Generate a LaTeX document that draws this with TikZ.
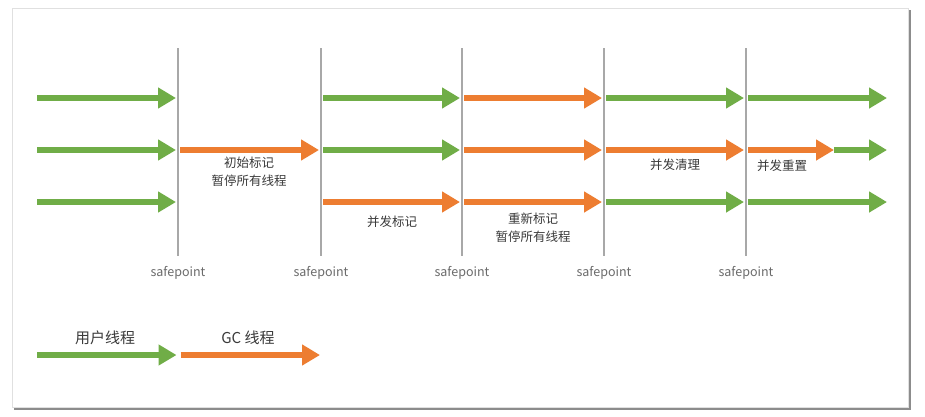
\documentclass[tikz,border=0pt]{standalone}
\usepackage{fontspec}
\setmainfont{Noto Sans CJK SC}
\usetikzlibrary{arrows.meta}
\definecolor{usercol}{HTML}{70AD47}
\definecolor{gccol}{HTML}{ED7D31}
\definecolor{spcol}{HTML}{A8A8A8}
\definecolor{txtcol}{HTML}{3A3A3A}

\begin{document}
\begin{tikzpicture}[
    x=1pt, y=-1pt,
    every node/.style={font=\fontsize{12.5}{18}\selectfont, text=txtcol, inner sep=0pt},
    thread/.style={line width=6pt, -{Triangle[length=18pt, width=20pt]},
        shorten <=2pt, shorten >=2pt},
    user/.style={thread, draw=usercol},
    gc/.style={thread, draw=gccol},
    spline/.style={draw=spcol, line width=2.6pt},
    splabel/.style={font=\fontsize{12.5}{14}\selectfont, text=black!58},
    phase/.style={align=center},
    legendlabel/.style={font=\fontsize{15}{18}\selectfont},
]

\useasboundingbox (0,0) rectangle (925,416);

% ===== Frame =====
\fill[black!45] (14,10) rectangle (910.5,409.5);
\filldraw[fill=white, draw=black!12, line width=0.8pt] (12,8) rectangle (908,407);

% ===== Grid points: columns x rows =====
\foreach \i/\x in {0/35,1/178,2/321,3/462,4/604,5/746,6/889}
    \foreach \j/\y in {1/98,2/150,3/202}
        \coordinate (c\i-\j) at (\x,\y);
\coordinate (r2mid) at (834,150);

% ===== Safepoints =====
\foreach \i/\x in {1/178,2/321,3/462,4/604,5/746} {
    \coordinate (top\i) at (\x,48);
    \coordinate (bot\i) at (\x,256);
    \draw[spline] (top\i) -- (bot\i);
    \node[splabel] (sp\i) at (\x,273) {safepoint};
}

% ===== Row 1 =====
\draw[user] (c0-1) -- (c1-1);
\draw[user] (c2-1) -- (c3-1);
\draw[gc]   (c3-1) -- (c4-1);
\draw[user] (c4-1) -- (c5-1);
\draw[user] (c5-1) -- (c6-1);

% ===== Row 2 =====
\draw[user] (c0-2) -- (c1-2);
\draw[gc]   (c1-2) -- (c2-2);
\draw[user] (c2-2) -- (c3-2);
\draw[gc]   (c3-2) -- (c4-2);
\draw[gc]   (c4-2) -- (c5-2);
\draw[gc, shorten >=0pt] (c5-2) -- (r2mid);
\draw[user, shorten <=0pt] (r2mid) -- (c6-2);

% ===== Row 3 =====
\draw[user] (c0-3) -- (c1-3);
\draw[gc]   (c2-3) -- (c3-3);
\draw[gc]   (c3-3) -- (c4-3);
\draw[user] (c4-3) -- (c5-3);
\draw[user] (c5-3) -- (c6-3);

% ===== Phase labels =====
\node[phase] (initmark) at (249,172) {初始标记\\暂停所有线程};
\node[phase] (concmark) at (392,222) {并发标记};
\node[phase] (remark)   at (533,228) {重新标记\\暂停所有线程};
\node[phase] (concsweep) at (675,165) {并发清理};
\node[phase] (concreset) at (782,166) {并发重置};

% ===== Legend =====
\coordinate (leg0) at (35,355);
\coordinate (leg1) at (178.5,355);
\coordinate (leg2) at (322,355);
\draw[user] (leg0) -- (leg1);
\draw[gc]   (leg1) -- (leg2);
\node[legendlabel] (lguser) at (105,338) {用户线程};
\node[legendlabel] (lggc)   at (248,338) {GC 线程};

\end{tikzpicture}
\end{document}
